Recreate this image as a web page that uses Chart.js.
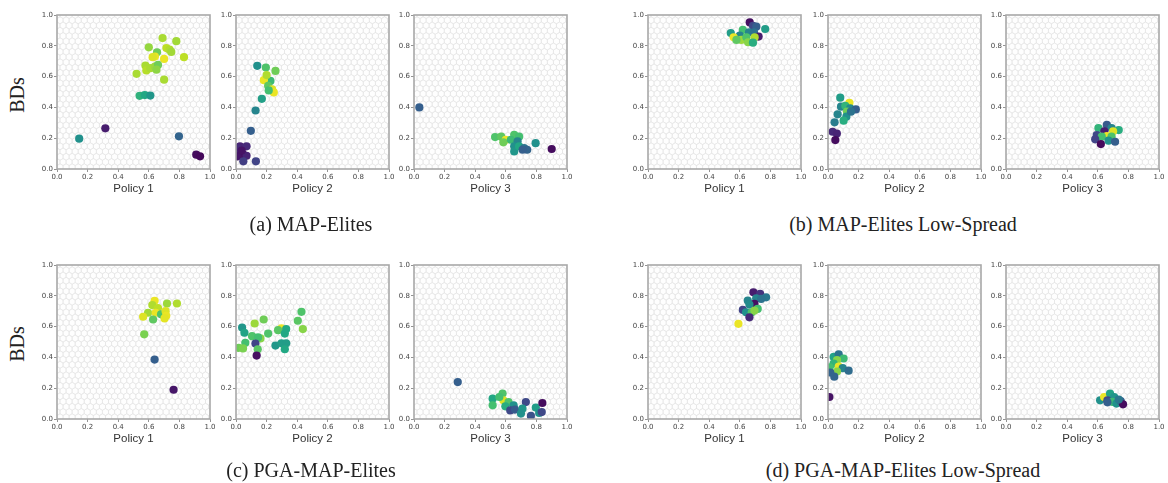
<!DOCTYPE html>
<html><head><meta charset="utf-8">
<script src="https://cdn.jsdelivr.net/npm/chart.js@4"></script>
<style>
body{margin:0;background:#fff;width:1168px;height:483px;position:relative;overflow:hidden}
canvas.p{position:absolute}
.cap{position:absolute;font-family:"Liberation Serif",serif;font-size:20px;line-height:24px;color:#222;white-space:nowrap;transform:translateX(-50%)}
.bds{position:absolute;font-family:"Liberation Serif",serif;font-size:20px;line-height:24px;color:#222;white-space:nowrap;transform:translate(-50%,-50%) rotate(-90deg)}
</style></head><body>
<script>
// ---------- data ----------
const tickValues = [0, 0.2, 0.4, 0.6, 0.8, 1.0];
const policyTitles = ['Policy 1', 'Policy 2', 'Policy 3'];
const captions = ['(a) MAP-Elites', '(b) MAP-Elites Low-Spread', '(c) PGA-MAP-Elites', '(d) PGA-MAP-Elites Low-Spread'];
const yLabel = 'BDs';
// each elite: [policy BD x, policy BD y, fitness 0..1]
const mapElitesP1 = [[0.69,0.85,0.87],[0.60,0.79,0.84],[0.78,0.83,0.86],[0.715,0.785,0.90],[0.736,0.775,0.88],[0.747,0.76,0.86],[0.654,0.758,0.78],[0.64,0.73,0.97],[0.625,0.726,0.95],[0.70,0.715,0.97],[0.83,0.726,0.90],[0.578,0.672,0.87],[0.584,0.64,0.89],[0.61,0.655,0.87],[0.64,0.665,0.85],[0.66,0.676,0.78],[0.65,0.645,0.83],[0.52,0.618,0.87],[0.70,0.58,0.87],[0.54,0.475,0.64],[0.574,0.48,0.60],[0.61,0.477,0.52],[0.145,0.197,0.50],[0.316,0.264,0.08],[0.797,0.212,0.32],[0.91,0.093,0.03],[0.935,0.082,0.02]];
const mapElitesP2 = [[0.139,0.67,0.50],[0.195,0.659,0.72],[0.258,0.637,0.78],[0.225,0.572,0.68],[0.182,0.577,0.97],[0.20,0.61,0.88],[0.21,0.54,0.75],[0.236,0.518,0.95],[0.247,0.497,0.97],[0.214,0.51,0.70],[0.169,0.456,0.56],[0.128,0.38,0.45],[0.097,0.248,0.30],[0.026,0.147,0.10],[0.026,0.104,0.08],[0.048,0.093,0.03],[0.069,0.147,0.12],[0.069,0.086,0.10],[0.011,0.082,0.06],[0.048,0.05,0.18],[0.13,0.05,0.20],[0.011,0.136,0.12],[0.037,0.12,0.05]];
const mapElitesP3 = [[0.035,0.40,0.30],[0.53,0.207,0.72],[0.57,0.21,0.75],[0.60,0.19,0.97],[0.584,0.173,0.78],[0.655,0.222,0.72],[0.687,0.21,0.70],[0.633,0.19,0.68],[0.677,0.18,0.45],[0.655,0.147,0.50],[0.655,0.114,0.52],[0.687,0.147,0.60],[0.72,0.136,0.38],[0.74,0.125,0.32],[0.71,0.125,0.30],[0.795,0.168,0.50],[0.90,0.13,0.03]];
const lowSpreadP1 = [[0.665,0.952,0.04],[0.686,0.93,0.22],[0.708,0.924,0.30],[0.766,0.909,0.55],[0.541,0.883,0.55],[0.62,0.903,0.70],[0.66,0.887,0.45],[0.693,0.887,0.38],[0.723,0.86,0.08],[0.60,0.866,0.45],[0.56,0.855,0.97],[0.61,0.838,0.85],[0.643,0.855,0.72],[0.654,0.823,0.82],[0.697,0.855,0.88],[0.686,0.82,0.62],[0.578,0.838,0.75]];
const lowSpreadP2 = [[0.08,0.463,0.55],[0.14,0.43,0.97],[0.085,0.405,0.45],[0.113,0.41,0.65],[0.145,0.394,0.48],[0.182,0.387,0.30],[0.124,0.372,0.78],[0.063,0.355,0.45],[0.12,0.34,0.50],[0.15,0.372,0.38],[0.102,0.314,0.62],[0.043,0.303,0.42],[0.03,0.242,0.12],[0.058,0.23,0.10],[0.048,0.188,0.03]];
const lowSpreadP3 = [[0.659,0.286,0.28],[0.604,0.266,0.65],[0.69,0.266,0.45],[0.737,0.253,0.62],[0.643,0.245,0.08],[0.70,0.245,0.95],[0.593,0.22,0.22],[0.659,0.214,0.97],[0.626,0.21,0.70],[0.69,0.21,0.72],[0.583,0.193,0.20],[0.67,0.184,0.50],[0.713,0.177,0.30],[0.62,0.162,0.02]];
const pgaP1 = [[0.638,0.768,0.97],[0.784,0.75,0.88],[0.719,0.75,0.85],[0.623,0.74,0.88],[0.66,0.72,0.90],[0.595,0.69,0.86],[0.645,0.69,0.97],[0.68,0.68,0.72],[0.71,0.70,0.95],[0.714,0.67,0.97],[0.563,0.664,0.95],[0.703,0.653,0.96],[0.628,0.646,0.75],[0.57,0.55,0.80],[0.638,0.386,0.30],[0.762,0.19,0.06]];
const pgaP2 = [[0.428,0.696,0.72],[0.404,0.638,0.74],[0.437,0.584,0.82],[0.181,0.646,0.78],[0.122,0.62,0.85],[0.04,0.594,0.52],[0.055,0.56,0.58],[0.21,0.555,0.72],[0.297,0.588,0.97],[0.275,0.577,0.74],[0.328,0.584,0.60],[0.319,0.555,0.60],[0.105,0.538,0.72],[0.16,0.523,0.82],[0.144,0.53,0.70],[0.061,0.495,0.70],[0.017,0.462,0.78],[0.046,0.458,0.80],[0.127,0.49,0.20],[0.258,0.477,0.52],[0.297,0.492,0.55],[0.328,0.492,0.55],[0.319,0.453,0.60],[0.142,0.453,0.74],[0.135,0.412,0.04]];
const pgaP3 = [[0.286,0.24,0.30],[0.514,0.132,0.60],[0.514,0.089,0.70],[0.579,0.165,0.72],[0.584,0.121,0.95],[0.558,0.143,0.70],[0.618,0.11,0.72],[0.597,0.082,0.62],[0.651,0.089,0.50],[0.629,0.056,0.22],[0.66,0.061,0.28],[0.731,0.11,0.22],[0.709,0.067,0.52],[0.699,0.035,0.50],[0.764,0.02,0.25],[0.796,0.074,0.55],[0.818,0.039,0.50],[0.835,0.045,0.22],[0.839,0.104,0.03]];
const pgaLowP1 = [[0.689,0.823,0.08],[0.733,0.812,0.15],[0.772,0.79,0.40],[0.707,0.784,0.45],[0.652,0.769,0.45],[0.74,0.78,0.38],[0.696,0.747,0.04],[0.663,0.743,0.48],[0.62,0.708,0.20],[0.641,0.693,0.50],[0.678,0.693,0.72],[0.717,0.715,0.70],[0.696,0.704,0.82],[0.663,0.66,0.12],[0.591,0.618,0.97]];
const pgaLowP2 = [[0.037,0.403,0.58],[0.07,0.42,0.38],[0.102,0.393,0.68],[0.059,0.382,0.82],[0.037,0.36,0.65],[0.011,0.336,0.70],[0.07,0.34,0.97],[0.096,0.33,0.45],[0.059,0.308,0.82],[0.015,0.302,0.32],[0.041,0.275,0.32],[0.135,0.314,0.35],[0.009,0.143,0.05]];
const pgaLowP3 = [[0.615,0.121,0.50],[0.641,0.143,0.97],[0.68,0.165,0.58],[0.707,0.143,0.52],[0.663,0.121,0.22],[0.696,0.111,0.68],[0.722,0.10,0.50],[0.663,0.108,0.30],[0.75,0.117,0.30],[0.765,0.095,0.03],[0.737,0.126,0.40]];

// ---------- layout ----------
const panels = [
  {d: mapElitesP1, t: 0, l: 57,  top: 15}, {d: mapElitesP2, t: 1, l: 236, top: 15}, {d: mapElitesP3, t: 2, l: 414, top: 15},
  {d: lowSpreadP1, t: 0, l: 648, top: 15}, {d: lowSpreadP2, t: 1, l: 828, top: 15}, {d: lowSpreadP3, t: 2, l: 1006, top: 15},
  {d: pgaP1, t: 0, l: 57,  top: 265}, {d: pgaP2, t: 1, l: 236, top: 265}, {d: pgaP3, t: 2, l: 414, top: 265},
  {d: pgaLowP1, t: 0, l: 648, top: 265}, {d: pgaLowP2, t: 1, l: 828, top: 265}, {d: pgaLowP3, t: 2, l: 1006, top: 265}
];
const PW = 153, PH = 154, YW = 26, XH = 30, PADT = 8, PADR = 12;

const viridisStops = ['#440154','#482475','#414487','#355f8d','#2a788e','#21918c','#22a884','#44bf70','#7ad151','#bddf26','#fde725'];
function hex2rgb(h){return [parseInt(h.slice(1,3),16),parseInt(h.slice(3,5),16),parseInt(h.slice(5,7),16)];}
function viridis(v){
  v = Math.max(0, Math.min(1, v)) * 10;
  const i = Math.min(9, Math.floor(v)), f = v - i;
  const a = hex2rgb(viridisStops[i]), b = hex2rgb(viridisStops[i+1]);
  return 'rgb(' + a.map((c,k)=>Math.round(c + (b[k]-c)*f)).join(',') + ')';
}

const cvtPlugin = {
  id: 'cvt',
  beforeDatasetsDraw(chart){
    const {ctx, chartArea: a} = chart;
    ctx.save();
    ctx.beginPath(); ctx.rect(a.left, a.top, a.right - a.left, a.bottom - a.top); ctx.clip();
    ctx.fillStyle = '#fefefe'; ctx.fillRect(a.left, a.top, a.right - a.left, a.bottom - a.top);
    ctx.strokeStyle = '#e4e4e4'; ctx.lineWidth = 0.6;
    const r = 3.5, w = Math.sqrt(3) * r, h = 1.5 * r;
    ctx.beginPath();
    let row = 0;
    for (let y = a.top; y < a.bottom + r; y += h, row++) {
      for (let x = a.left + (row % 2 ? w / 2 : 0); x < a.right + w; x += w) {
        for (let k = 0; k < 6; k++) {
          const ang = Math.PI / 3 * k + Math.PI / 6;
          const px = x + r * Math.cos(ang), py = y + r * Math.sin(ang);
          if (k) ctx.lineTo(px, py); else ctx.moveTo(px, py);
        }
        ctx.closePath();
      }
    }
    ctx.stroke();
    ctx.restore();
  },
  afterDatasetsDraw(chart){
    const {ctx, chartArea: a} = chart;
    ctx.save();
    ctx.strokeStyle = '#a8a8a8'; ctx.lineWidth = 1.6;
    ctx.strokeRect(a.left, a.top, a.right - a.left, a.bottom - a.top);
    ctx.restore();
  }
};

panels.forEach(p => {
  const c = document.createElement('canvas');
  c.className = 'p';
  const cw = YW + PW + PADR, ch = PADT + PH + XH;
  c.width = cw; c.height = ch;
  c.style.left = (p.l - YW) + 'px';
  c.style.top = (p.top - PADT) + 'px';
  c.style.width = cw + 'px'; c.style.height = ch + 'px';
  document.body.appendChild(c);
  const axisCommon = {
    type: 'linear', min: tickValues[0], max: tickValues[tickValues.length - 1],
    afterBuildTicks(s){ s.ticks = tickValues.map(v => ({value: v})); },
    ticks: {callback: v => v.toFixed(1), font: {family: 'DejaVu Sans', size: 7}, color: '#444', padding: 1, maxRotation: 0, autoSkip: false},
    grid: {drawOnChartArea: false, drawTicks: true, tickLength: 3, color: '#777', lineWidth: 0.8},
    border: {display: false}
  };
  new Chart(c, {
    type: 'scatter',
    data: {datasets: [{
      data: p.d.map(e => ({x: e[0], y: e[1]})),
      pointBackgroundColor: p.d.map(e => viridis(e[2])),
      pointBorderWidth: 0, pointRadius: 4.1, pointHoverRadius: 4.1
    }]},
    options: {
      responsive: false, animation: false, devicePixelRatio: 1, events: [],
      layout: {padding: {left: 0, top: PADT, right: PADR, bottom: 0}},
      plugins: {legend: {display: false}, tooltip: {enabled: false}},
      scales: {
        x: Object.assign({}, axisCommon, {
          position: 'bottom',
          title: {display: true, text: policyTitles[p.t], font: {family: 'Liberation Sans', size: 11.5}, color: '#333', padding: {top: 0, bottom: 3}},
          afterFit(s){ s.height = XH; }
        }),
        y: Object.assign({}, axisCommon, {
          position: 'left',
          afterFit(s){ s.width = YW; }
        })
      }
    },
    plugins: [cvtPlugin]
  });
});

// captions and row labels
const capPos = [[311, 212], [903, 212], [311, 458], [903, 458]];
captions.forEach((t, i) => {
  const d = document.createElement('div');
  d.className = 'cap'; d.textContent = t;
  d.style.left = capPos[i][0] + 'px'; d.style.top = capPos[i][1] + 'px';
  document.body.appendChild(d);
});
[[17, 95], [17, 344]].forEach(pos => {
  const d = document.createElement('div');
  d.className = 'bds'; d.textContent = yLabel;
  d.style.left = pos[0] + 'px'; d.style.top = pos[1] + 'px';
  document.body.appendChild(d);
});
</script>
</body></html>
